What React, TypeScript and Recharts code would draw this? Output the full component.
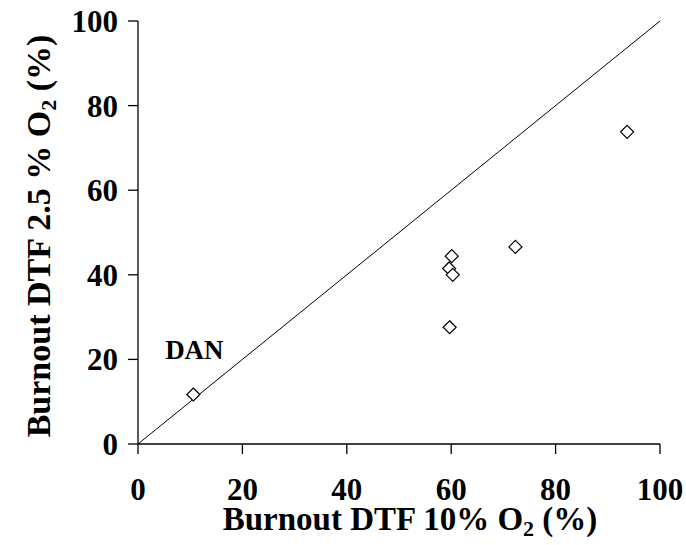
import * as React from "react";
import {
  ScatterChart,
  Scatter,
  XAxis,
  YAxis,
  ReferenceLine,
  ReferenceDot,
  Label,
} from "recharts";

const burnout10 = [10.6, 59.7, 60.1, 59.6, 60.3, 72.3, 93.7];
const burnout25 = [11.7, 27.6, 44.4, 41.5, 40.0, 46.6, 73.8];
const axisTicks = [0, 20, 40, 60, 80, 100];

const FONT = '"Liberation Serif", "Times New Roman", serif';

const points = burnout10.map((x, i) => ({ x, y: burnout25[i] }));

function Diamond(props: any): React.JSX.Element {
  const { cx, cy } = props;
  const h = 6.5;
  return (
    <path
      d={`M${cx},${cy - h} L${cx + h},${cy} L${cx},${cy + h} L${cx - h},${cy} Z`}
      fill="#fff"
      stroke="#000"
      strokeWidth={1.2}
    />
  );
}

function XTitle(): React.JSX.Element {
  return (
    <text x={410} y={530} textAnchor="middle" fontFamily={FONT} fontWeight="bold" fontSize={33} fill="#000">
      Burnout DTF 10% O
      <tspan fontSize={22} dy={6}>2</tspan>
      <tspan dy={-6}> (%)</tspan>
    </text>
  );
}

function YTitle(): React.JSX.Element {
  return (
    <text
      x={0}
      y={0}
      transform="translate(50,236) rotate(-90)"
      textAnchor="middle"
      fontFamily={FONT}
      fontWeight="bold"
      fontSize={34}
      fill="#000"
    >
      Burnout DTF 2.5 % O
      <tspan fontSize={22} dy={6}>2</tspan>
      <tspan dy={-6}> (%)</tspan>
    </text>
  );
}

function DanLabel(props: any): React.JSX.Element {
  const { viewBox } = props;
  return (
    <text
      x={viewBox.x}
      y={viewBox.y}
      textAnchor="middle"
      dominantBaseline="central"
      fontFamily={FONT}
      fontWeight="bold"
      fontSize={27}
      fill="#000"
    >
      DAN
    </text>
  );
}

export default function App(): React.JSX.Element {
  const tickStyle = { fontFamily: FONT, fontWeight: "bold", fontSize: 31, fill: "#000" };
  return (
    <div style={{ position: "absolute", left: 0, top: 0, background: "#fff" }}>
      <ScatterChart width={686} height={545} margin={{ top: 21, right: 26, bottom: 0, left: 0 }}>
        <XAxis
          type="number"
          dataKey="x"
          domain={[0, 100]}
          ticks={axisTicks}
          allowDataOverflow
          height={101}
          tickSize={10}
          tickMargin={24}
          axisLine={{ stroke: "#000", strokeWidth: 1.3 }}
          tickLine={{ stroke: "#000", strokeWidth: 1.3 }}
          tick={tickStyle}
        >
          <Label content={<XTitle />} />
        </XAxis>
        <YAxis
          type="number"
          dataKey="y"
          domain={[0, 100]}
          ticks={axisTicks}
          allowDataOverflow
          width={138}
          tickSize={10}
          tickMargin={10}
          axisLine={{ stroke: "#000", strokeWidth: 1.3 }}
          tickLine={{ stroke: "#000", strokeWidth: 1.3 }}
          tick={tickStyle}
        >
          <Label content={<YTitle />} />
        </YAxis>
        <ReferenceLine
          segment={[
            { x: 0, y: 0 },
            { x: 100, y: 100 },
          ]}
          stroke="#000"
          strokeWidth={1}
        />
        <Scatter data={points} shape={<Diamond />} isAnimationActive={false} />
        <ReferenceDot x={10.8} y={22.2} r={0} stroke="none" fill="none">
          <Label content={<DanLabel />} />
        </ReferenceDot>
      </ScatterChart>
    </div>
  );
}
